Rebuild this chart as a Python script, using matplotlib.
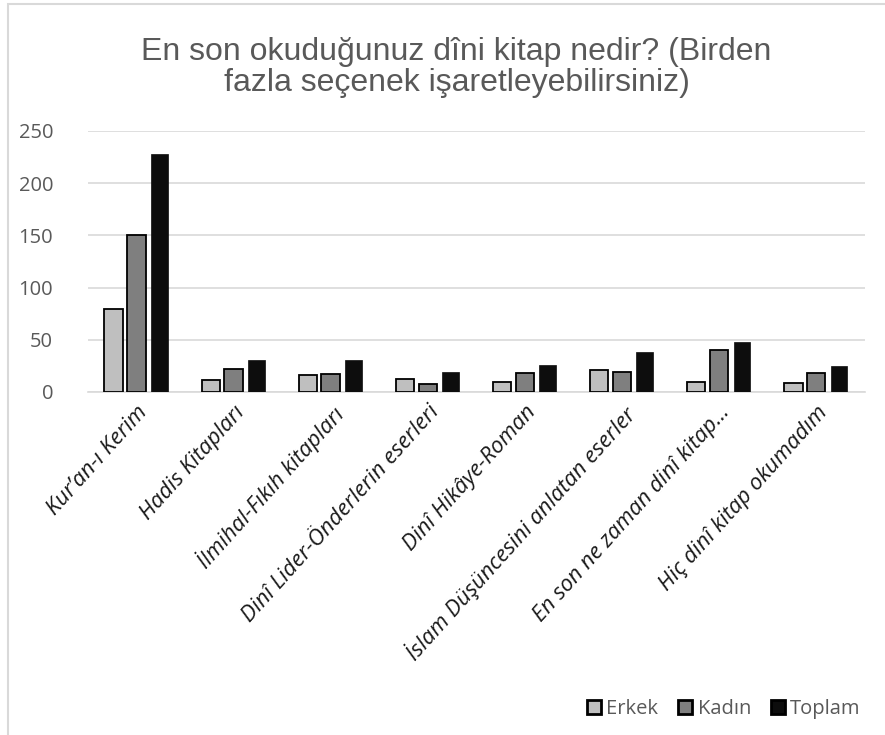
import matplotlib.pyplot as plt
import numpy as np
from matplotlib.patches import Rectangle

categories = ["Kur\u2019an-ı Kerim", "Hadis Kitapları", "İlmihal-Fıkıh kitapları",
              "Dinî Lider-Önderlerin eserleri", "Dinî Hikâye-Roman",
              "İslam Düşüncesini anlatan eserler", "En son ne zaman dinî kitap...",
              "Hiç dinî kitap okumadım"]
erkek = [79, 11, 16, 12, 10, 21, 10, 9]
kadin = [150, 22, 17, 8, 18, 19, 40, 18]
toplam = [228, 31, 31, 19, 26, 38, 48, 25]
yticks = [0, 50, 100, 150, 200, 250]

title = "En son okuduğunuz dîni kitap nedir? (Birden\nfazla seçenek işaretleyebilirsiniz)"

fig = plt.figure(figsize=(8.85, 7.35), dpi=100)
ax = fig.add_axes([0.0994, 0.4667, 0.8776, 0.3551])

# outer chart frame
fig.add_artist(Rectangle((8 / 885, -0.1), 1.2, 1.1 - 4 / 735,
                         transform=fig.transFigure, fill=False,
                         edgecolor="#d9d9d9", linewidth=1.5))

x = np.arange(len(categories))
w = 0.19
off = 0.235
ax.bar(x - off, erkek, w, color="#bfbfbf", edgecolor="black", linewidth=1.3, label="Erkek", zorder=3)
ax.bar(x, kadin, w, color="#7f7f7f", edgecolor="black", linewidth=1.3, label="Kadın", zorder=3)
ax.bar(x + off, toplam, w * 0.9, color="#0d0d0d", edgecolor="#0d0d0d", linewidth=0.5, label="Toplam", zorder=3)

ax.set_xlim(-0.5, len(categories) - 0.5)
ax.set_ylim(0, 250)
ax.set_yticks(yticks)
ax.yaxis.grid(True, color="#d9d9d9", linewidth=1.2, zorder=0)
ax.set_axisbelow(True)
for s in ["top", "right", "left"]:
    ax.spines[s].set_visible(False)
ax.spines["bottom"].set_color("#d9d9d9")
ax.spines["bottom"].set_linewidth(1.2)
ax.tick_params(axis="both", length=0)
ax.tick_params(axis="y", labelsize=14.5, labelcolor="#595959", pad=25)
for lab in ax.get_yticklabels():
    lab.set_fontfamily("Open Sans")

ax.set_xticks(x)
ax.set_xticklabels(categories, rotation=48, ha="right", rotation_mode="anchor",
                   fontsize=16, fontstyle="italic", family="Open Sans", color="#1a1a1a")
ax.tick_params(axis="x", pad=7)

fig.text(0.516, 0.908, title, ha="center", va="center", fontsize=23,
         color="#595959", family="Liberation Sans", linespacing=1.05)

leg = fig.legend(loc="lower right", bbox_to_anchor=(0.993, -0.003), ncol=3, frameon=False,
                 handlelength=0.7, handleheight=0.7, handletextpad=0.25, columnspacing=1.0,
                 prop={"family": "Open Sans", "size": 14.5})
for t in leg.get_texts():
    t.set_color("#595959")
for h in leg.legend_handles:
    h.set_edgecolor("black")
    h.set_linewidth(2)

fig.savefig("out.png", dpi=100)
